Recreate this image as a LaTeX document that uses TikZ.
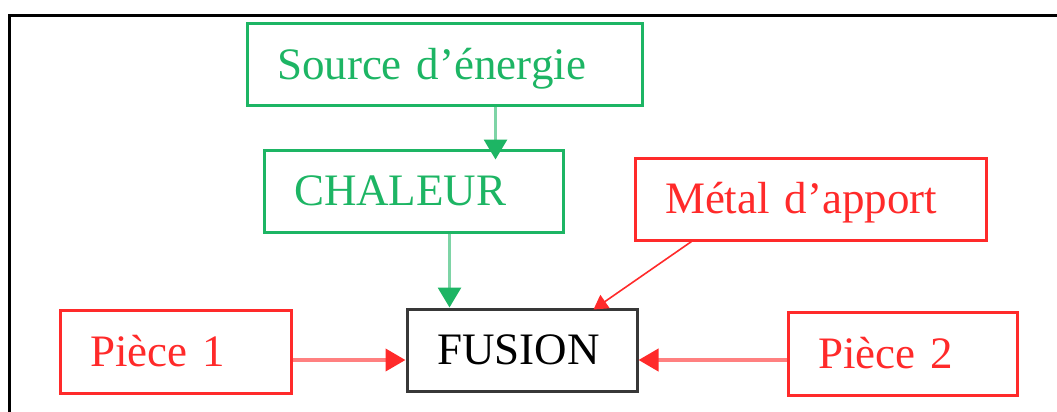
\documentclass[tikz,border=0pt]{standalone}
\usepackage{fontspec}
\setmainfont{Liberation Serif}
\usetikzlibrary{arrows.meta,calc}
\definecolor{grn}{HTML}{1DB564}
\definecolor{grnl}{HTML}{7ED4A6}
\definecolor{rd}{HTML}{FF2A2A}
\definecolor{rdl}{HTML}{FF8080}
\definecolor{dk}{HTML}{383838}
\tikzset{
  box/.style={rectangle, line width=3pt, inner xsep=30pt, inner ysep=0pt, align=left,
    text height=29.8pt, text depth=0pt, font=\fontsize{45}{54}\selectfont},
  gbox/.style={box, draw=grn, text=grn},
  rbox/.style={box, draw=rd, text=rd},
  kbox/.style={box, draw=dk, text=black},
  garrow/.style={draw=grnl, line width=3pt, -{Triangle[length=20pt,width=23pt,color=grn]}},
  rarrow/.style={draw=rdl, line width=4pt, -{Triangle[length=20pt,width=22pt,color=rd]}},
  tarrow/.style={draw=rd, line width=1.6pt, -{Triangle[length=14pt,width=16pt,color=rd]}},
}
\begin{document}
\begin{tikzpicture}[x=1pt,y=-1pt]
\useasboundingbox (0,0) rectangle (1057,412);
% outer frame (only top and left visible)
\draw[line width=3.5pt, black] (9.5,1000) -- (9.5,15.5) -- (1200,15.5);
% boxes
\node[gbox, text width=335pt, minimum height=81pt] (src) at (444.5,64.5) {Source d'énergie};
\node[gbox, text width=239pt, minimum height=82pt] (chal) at (413.5,191) {CHALEUR};
\node[rbox, text width=291pt, minimum height=82pt] (metal) at (810.5,199) {Métal d'apport};
\node[kbox, text width=170pt, minimum height=82pt] (fus) at (522,350) {FUSION};
\node[rbox, text width=171pt, minimum height=83pt] (p1) at (175.5,351.5) {Pièce 1};
\node[rbox, text width=169pt, minimum height=83pt] (p2) at (902.5,353.5) {Pièce 2};
% connectors
\draw[garrow, shorten >=-11pt] ([xshift=250pt]src.south west) -- ([xshift=233pt]chal.north west);
\draw[garrow] ([xshift=187pt]chal.south west) -- ([xshift=44pt]fus.north west);
\draw[tarrow] ([xshift=58pt]metal.south west) -- ([xshift=188pt,yshift=-2pt]fus.north west);
\draw[rarrow] (p1.east |- 0,360) -- (fus.west |- 0,360);
\draw[rarrow] (p2.west |- 0,360) -- (fus.east |- 0,360);
\end{tikzpicture}
\end{document}
